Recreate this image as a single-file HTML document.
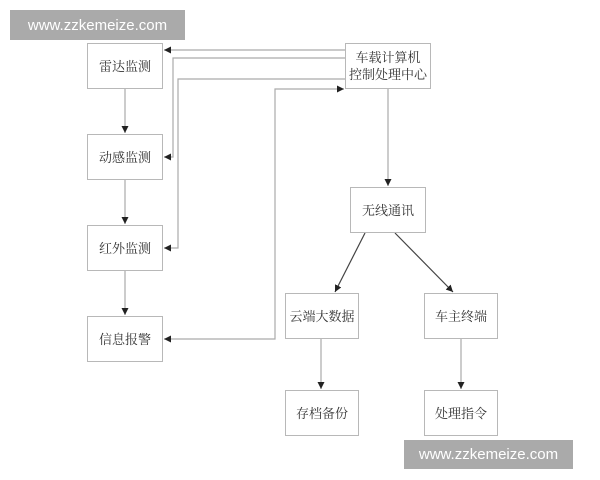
<!DOCTYPE html>
<html><head><meta charset="utf-8"><style>
html,body{margin:0;padding:0;background:#fff;width:600px;height:480px;overflow:hidden;position:relative;font-family:"Liberation Serif","Noto Serif CJK SC",serif}
.b{position:absolute;border:1px solid #b8b8b8;box-sizing:border-box;display:flex;align-items:center;justify-content:center;font-size:13px;color:#333;text-align:center;line-height:17px;background:#fff}
.wm{position:absolute;background:#aaa;color:#fff;font-family:"Liberation Sans",sans-serif;font-size:15px;display:flex;align-items:center;justify-content:center}
svg{position:absolute;left:0;top:0}
</style></head><body>
<svg width="600" height="480">
<defs>
<marker id="a" markerWidth="8" markerHeight="8" refX="7" refY="4" orient="auto" markerUnits="userSpaceOnUse"><path d="M0,0.5 L7,4 L0,7.5z" fill="#222"/></marker>
<marker id="s" markerWidth="8" markerHeight="8" refX="0" refY="4" orient="auto" markerUnits="userSpaceOnUse"><path d="M7,0.5 L0,4 L7,7.5z" fill="#222"/></marker>
</defs>
<g fill="none" stroke="#aaa" stroke-width="1.2">
<path d="M345,50 H164" marker-end="url(#a)"/>
<path d="M345,58 H173 V157 H164" marker-end="url(#a)"/>
<path d="M345,79 H178 V248 H164" marker-end="url(#a)"/>
<path d="M164,339 H275 V89 H344" marker-start="url(#s)" marker-end="url(#a)"/>
<path d="M125,89 V133" marker-end="url(#a)"/>
<path d="M125,180 V224" marker-end="url(#a)"/>
<path d="M125,271 V315" marker-end="url(#a)"/>
<path d="M388,89 V186" marker-end="url(#a)"/>
<path d="M321,339 V389" marker-end="url(#a)"/>
<path d="M461,339 V389" marker-end="url(#a)"/>
</g>
<g stroke="#444" stroke-width="1.2">
<path d="M365,233 L335,292" marker-end="url(#a)"/>
<path d="M395,233 L453,292" marker-end="url(#a)"/>
</g>
</svg>
<div class="b" style="left:87px;top:43px;width:76px;height:46px">雷达监测</div>
<div class="b" style="left:87px;top:134px;width:76px;height:46px">动感监测</div>
<div class="b" style="left:87px;top:225px;width:76px;height:46px">红外监测</div>
<div class="b" style="left:87px;top:316px;width:76px;height:46px">信息报警</div>
<div class="b" style="left:345px;top:43px;width:86px;height:46px">车载计算机<br>控制处理中心</div>
<div class="b" style="left:350px;top:187px;width:76px;height:46px">无线通讯</div>
<div class="b" style="left:285px;top:293px;width:74px;height:46px">云端大数据</div>
<div class="b" style="left:424px;top:293px;width:74px;height:46px">车主终端</div>
<div class="b" style="left:285px;top:390px;width:74px;height:46px">存档备份</div>
<div class="b" style="left:424px;top:390px;width:74px;height:46px">处理指令</div>
<div class="wm" style="left:10px;top:10px;width:175px;height:30px">www.zzkemeize.com</div>
<div class="wm" style="left:404px;top:440px;width:169px;height:29px">www.zzkemeize.com</div>
</body></html>
